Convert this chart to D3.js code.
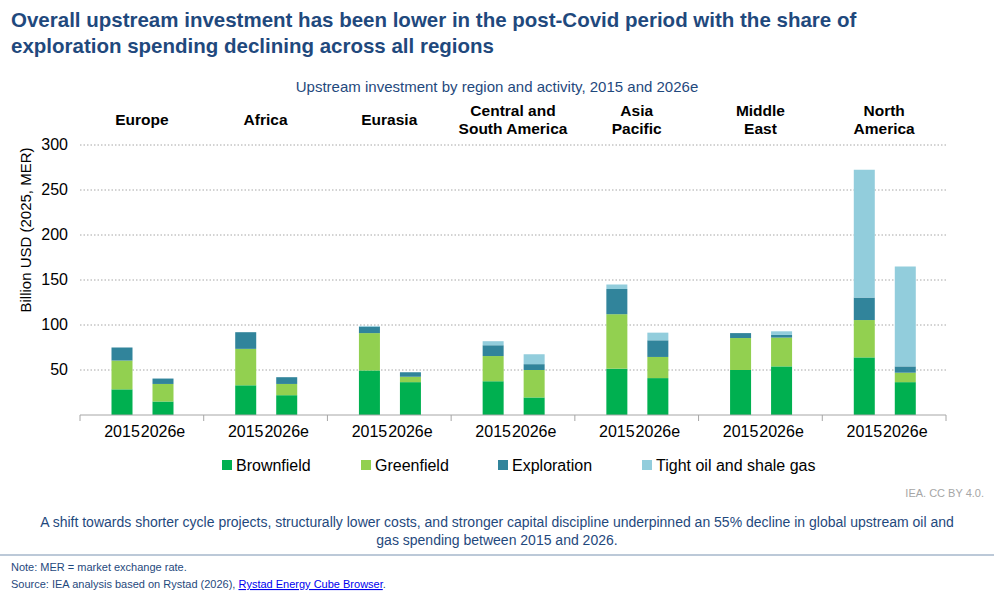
<!DOCTYPE html>
<html><head><meta charset="utf-8">
<script src="https://cdn.jsdelivr.net/npm/d3@7"></script>
<style>body{margin:0;background:#fff;font-family:"Liberation Sans",Arial,sans-serif;}</style>
</head><body>
<svg id="chart" width="994" height="600"></svg>
<script>
var regions = [["Europe"], ["Africa"], ["Eurasia"], ["Central and", "South America"], ["Asia", "Pacific"], ["Middle", "East"], ["North", "America"]];
var years = ["2015", "2026e"];
var series = ["Brownfield", "Greenfield", "Exploration", "Tight oil and shale gas"];
var colors = ["#00b050", "#92d050", "#31849b", "#92cddc"];
// values per region, [2015, 2026e]
var brownfield  = [[28.5, 15], [33, 22], [49.5, 36.5], [37.5, 19.5], [51.5, 41], [50, 54], [64, 36.5]];
var greenfield  = [[32, 19.5], [40.5, 12.5], [41.5, 6], [28, 30.5], [60.5, 23.5], [35.5, 32], [41.5, 10.5]];
var exploration = [[14.5, 6], [18.5, 7.5], [7, 5], [12, 6.5], [28, 18.5], [5.5, 3], [25, 7]];
var tight       = [[0, 0], [0, 0], [1, 0], [4.5, 11], [5, 8.5], [0, 4], [142, 111]];
var yTicks = [50, 100, 150, 200, 250, 300];

var svg = d3.select("#chart");
var navy = "#1f497d";

svg.append("text").attr("x", 11).attr("y", 27).attr("font-size", 20.5).attr("font-weight", "bold")
  .attr("fill", navy).text("Overall upstream investment has been lower in the post-Covid period with the share of");
svg.append("text").attr("x", 11).attr("y", 53).attr("font-size", 20.5).attr("font-weight", "bold")
  .attr("fill", navy).text("exploration spending declining across all regions");
svg.append("text").attr("x", 497).attr("y", 92).attr("text-anchor", "middle").attr("font-size", 15)
  .attr("fill", navy).text("Upstream investment by region and activity, 2015 and 2026e");

var x0 = d3.scaleBand().domain(d3.range(regions.length)).range([80, 946]);
var x1 = d3.scalePoint().domain(years).range([42, 83]);
var bw = 21;
var y = d3.scaleLinear().domain([0, 300]).range([415, 145]);

var g = svg.append("g");
g.selectAll("line.grid").data(yTicks).join("line")
  .attr("x1", 80).attr("x2", 946).attr("y1", d => y(d)).attr("y2", d => y(d))
  .attr("stroke", "#a6a6a6").attr("stroke-dasharray", "1.5,2");
g.selectAll("text.yt").data(yTicks).join("text")
  .attr("x", 68).attr("y", d => y(d) + 5).attr("text-anchor", "end").attr("font-size", 16).text(d => d);
svg.append("text").attr("transform", "translate(31,230) rotate(-90)").attr("text-anchor", "middle")
  .attr("font-size", 15).text("Billion USD (2025, MER)");

var cols = [brownfield, greenfield, exploration, tight];
regions.forEach(function (r, i) {
  years.forEach(function (yr, j) {
    var base = 0;
    var cx = x0(i) + x1(yr);
    cols.forEach(function (s, k) {
      var v = s[i][j];
      if (v > 0) {
        g.append("rect").attr("x", cx - bw / 2).attr("width", bw)
          .attr("y", y(base + v)).attr("height", y(base) - y(base + v)).attr("fill", colors[k]);
      }
      base += v;
    });
    g.append("text").attr("x", cx).attr("y", 437).attr("text-anchor", "middle").attr("font-size", 16).text(yr);
  });
  var lx = x0(i) + x0.bandwidth() / 2;
  var t = svg.append("text").attr("text-anchor", "middle").attr("font-size", 15.5).attr("font-weight", "bold");
  var y0 = r.length == 1 ? 125 : 116;
  r.forEach(function (line, k) {
    t.append("tspan").attr("x", lx).attr("y", y0 + k * 18).text(line);
  });
});

g.append("line").attr("x1", 80).attr("x2", 946).attr("y1", 415).attr("y2", 415).attr("stroke", "#a6a6a6");
g.selectAll("line.tk").data(d3.range(regions.length + 1)).join("line")
  .attr("x1", d => 80 + d * x0.bandwidth()).attr("x2", d => 80 + d * x0.bandwidth())
  .attr("y1", 415).attr("y2", 421).attr("stroke", "#a6a6a6");

var legX = [222, 361, 498, 642];
series.forEach(function (s, k) {
  svg.append("rect").attr("x", legX[k]).attr("y", 460).attr("width", 10).attr("height", 10).attr("fill", colors[k]);
  svg.append("text").attr("x", legX[k] + 14).attr("y", 471).attr("font-size", 16).text(s);
});

svg.append("text").attr("x", 984).attr("y", 497).attr("text-anchor", "end").attr("font-size", 11)
  .attr("fill", "#a6a6a6").text("IEA. CC BY 4.0.");
svg.append("text").attr("x", 497).attr("y", 527).attr("text-anchor", "middle").attr("font-size", 14).attr("fill", navy)
  .text("A shift towards shorter cycle projects, structurally lower costs, and stronger capital discipline underpinned an 55% decline in global upstream oil and");
svg.append("text").attr("x", 497).attr("y", 545).attr("text-anchor", "middle").attr("font-size", 14).attr("fill", navy)
  .text("gas spending between 2015 and 2026.");
svg.append("line").attr("x1", 0).attr("x2", 994).attr("y1", 555).attr("y2", 555).attr("stroke", "#1f497d").attr("stroke-width", 0.6);
svg.append("text").attr("x", 11).attr("y", 571).attr("font-size", 11).attr("fill", navy).text("Note:  MER = market exchange rate.");
var src = svg.append("text").attr("x", 11).attr("y", 588).attr("font-size", 11).attr("fill", navy);
src.append("tspan").text("Source: IEA analysis based on Rystad (2026), ");
src.append("tspan").attr("fill", "#0000ee").attr("text-decoration", "underline").text("Rystad Energy Cube Browser");
src.append("tspan").text(".");
</script>
</body></html>
